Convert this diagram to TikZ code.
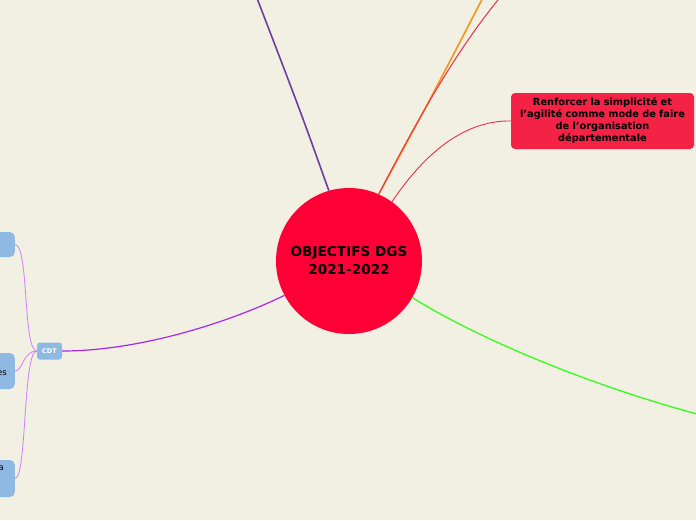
\documentclass[tikz,border=0pt]{standalone}
\usepackage{fontspec}
\setmainfont{DejaVu Sans}
\usetikzlibrary{shapes.geometric, arrows, positioning}
\definecolor{paper}{HTML}{F2EFE3}
\definecolor{dgsred}{HTML}{FF0036}
\definecolor{topicred}{HTML}{F42245}
\definecolor{leafblue}{HTML}{8DB9E2}
\definecolor{plum}{HTML}{6B3FA0}
\definecolor{amber}{HTML}{F7941D}
\definecolor{crimson}{HTML}{E8304A}
\definecolor{lime}{HTML}{33FF1A}
\definecolor{violet}{HTML}{A528F0}
\definecolor{lilac}{HTML}{CC80FF}
\tikzstyle{centre} = [circle, fill=dgsred, minimum size=146pt, inner sep=0pt, align=center, font=\bfseries\fontsize{13.6}{18}\selectfont]
\tikzstyle{topic} = [rectangle, rounded corners=4pt, fill=topicred, minimum width=183pt, minimum height=56pt, text width=170pt, align=center, font=\bfseries\fontsize{9.8}{12}\selectfont]
\tikzstyle{cdtbox} = [rectangle, rounded corners=3pt, fill=leafblue, minimum width=25pt, minimum height=17pt, inner sep=0pt, text=white, font=\bfseries\fontsize{6.5}{7}\selectfont]
\tikzstyle{leaf} = [rectangle, rounded corners=5pt, fill=leafblue, minimum width=80pt, text width=64pt, align=right, inner xsep=8pt, font=\fontsize{8.5}{12}\selectfont]
\tikzstyle{branch} = [line width=1.6pt]
\tikzstyle{twig} = [line width=0.8pt]

\begin{document}
\begin{tikzpicture}[x=1pt, y=-1pt]
						\useasboundingbox (0,0) rectangle (696,520);
						\fill [paper] (0,0) rectangle (696,520);
						% edges off the page
						\coordinate (endplum) at (250,-20);
						\coordinate (endamber) at (492,-20);
						\coordinate (endcrimson) at (515,-20);
						\coordinate (endlime) at (720,420);
						% nodes
						\node (dgs) [centre] at (349,261) {OBJECTIFS DGS\\ 2021-2022};
						\node (agile) [topic] at (602.5,121) {Renforcer la simplicité et\\ l’agilité comme mode de faire\\ de l’organisation\\ départementale};
						\node (cdt) [cdtbox] at (49.5,351) {CDT};
						\node (cdta) [leaf, anchor=east, minimum height=25pt] at (15,244.5) {};
						\node (cdtb) [leaf, anchor=east, minimum height=36pt, text height=8.7pt, text depth=0pt] at (15,371) {es};
						\node (cdtc) [leaf, anchor=east, minimum height=37pt, inner xsep=11pt, text depth=21pt] at (15,478.5) {a};
						% connectors
						\draw [branch, plum] (dgs.106.5) .. controls (300,110) .. (endplum);
						\draw [branch, amber] (dgs.66.5) .. controls (430,100) .. (endamber);
						\draw [line width=1pt, crimson] (dgs.66) .. controls (430,95) and (470,30) .. (endcrimson);
						\draw [line width=0.9pt, crimson] (dgs.54) .. controls (420,160) and (460,120) .. (agile.west);
						\draw [line width=1.3pt, lime] (dgs.330) .. controls (480,340) and (600,390) .. (endlime);
						\draw [line width=1.2pt, violet] (dgs.208.7) .. controls (230,322) and (140,351) .. (cdt.east);
						\draw [twig, lilac] (cdt.west) .. controls +(-14,0) and +(14,0) .. (cdta.east);
						\draw [twig, lilac] (cdt.west) .. controls +(-14,0) and +(8,0) .. (cdtb.east);
						\draw [twig, lilac] (cdt.west) .. controls +(-14,0) and +(12,0) .. (cdtc.east);
					\end{tikzpicture}
\end{document}
